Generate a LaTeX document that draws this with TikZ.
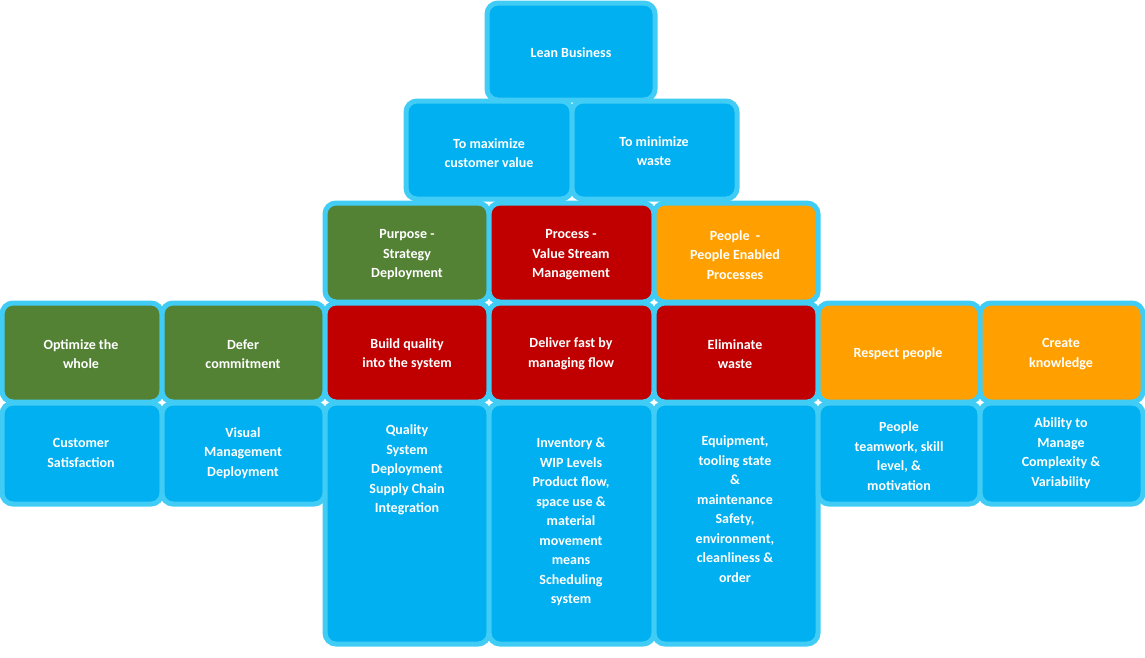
\documentclass[tikz,border=0pt]{standalone}
\usepackage{fontspec}
\setmainfont{Carlito}
\definecolor{leanblue}{HTML}{00B0F0}
\definecolor{leanrim}{HTML}{40CCF5}
\definecolor{leangreen}{HTML}{548235}
\definecolor{leanred}{HTML}{C00000}
\definecolor{leanorange}{HTML}{FFA000}
\tikzset{
  blk/.style={draw=leanrim, line width=5pt, rounded corners=11pt},
  txt/.style={text=white, font=\bfseries\fontsize{14}{19.5}\selectfont, align=center}
}
\begin{document}
\begin{tikzpicture}[x=1pt,y=-1pt]
  \useasboundingbox (0,0) rectangle (1145,657);
  % top levels
  \draw[blk, fill=leanblue] (487,3) rectangle (655,100);
  \node[txt] (lean) at (571,53) {Lean Business};
  \draw[blk, fill=leanblue] (406,101) rectangle (572,199);
  \node[txt] (maxval) at (489,153) {To maximize\\customer value};
  \draw[blk, fill=leanblue] (572,101) rectangle (737,199);
  \node[txt] (minwaste) at (654,151) {To minimize\\waste};
  % pillars
  \draw[blk, fill=leangreen] (325,203) rectangle (489,302);
  \node[txt] (purpose) at (407,255) {Purpose -\\Strategy\\Deployment};
  \draw[blk, fill=leanred] (489,203) rectangle (654,302);
  \node[txt] (process) at (571,255) {Process -\\Value Stream\\Management};
  \draw[blk, fill=leanorange] (654,203) rectangle (818,302);
  \node[txt] (people) at (735,255) {People \ -\\People Enabled\\Processes};
  % principles
  \draw[blk, fill=leangreen] (2,303) rectangle (162,402);
  \node[txt] (optimize) at (81,354) {Optimize the\\whole};
  \draw[blk, fill=leangreen] (162,303) rectangle (325,402);
  \node[txt] (defer) at (243,354) {Defer\\commitment};
  \draw[blk, fill=leanred] (325,303) rectangle (489,402);
  \node[txt] (quality) at (407,354) {Build quality\\into the system};
  \draw[blk, fill=leanred] (489,303) rectangle (654,402);
  \node[txt] (flow) at (571,354) {Deliver fast by\\managing flow};
  \draw[blk, fill=leanred] (654,303) rectangle (818,402);
  \node[txt] (eliminate) at (735,354) {Eliminate\\waste};
  \draw[blk, fill=leanorange] (818,303) rectangle (980,402);
  \node[txt] (respect) at (898,354) {Respect people};
  \draw[blk, fill=leanorange] (980,303) rectangle (1143,402);
  \node[txt] (knowledge) at (1061,354) {Create\\knowledge};
  % measures
  \draw[blk, fill=leanblue] (2,403) rectangle (162,504);
  \node[txt] (custsat) at (81,453) {Customer\\Satisfaction};
  \draw[blk, fill=leanblue] (162,403) rectangle (325,504);
  \node[txt] (visual) at (243,453) {Visual\\Management\\Deployment};
  \draw[blk, fill=leanblue] (325,403) rectangle (489,644);
  \node[txt] (qualsys) at (407,470) {Quality\\System\\Deployment\\Supply Chain\\Integration};
  \draw[blk, fill=leanblue] (489,403) rectangle (654,644);
  \node[txt] (inventory) at (571,522) {Inventory \&\\WIP Levels\\Product flow,\\space use \&\\material\\movement\\means\\Scheduling\\system};
  \draw[blk, fill=leanblue] (654,403) rectangle (818,644);
  \node[txt] (equipment) at (735,509) {Equipment,\\tooling state\\\&\\maintenance\\Safety,\\environment,\\cleanliness \&\\order};
  \draw[blk, fill=leanblue] (818,403) rectangle (980,504);
  \node[txt] (teamwork) at (899,456) {People\\teamwork, skill\\level, \&\\motivation};
  \draw[blk, fill=leanblue] (980,403) rectangle (1143,504);
  \node[txt] (ability) at (1061,453) {Ability to\\Manage\\Complexity \&\\Variability};
\end{tikzpicture}
\end{document}
